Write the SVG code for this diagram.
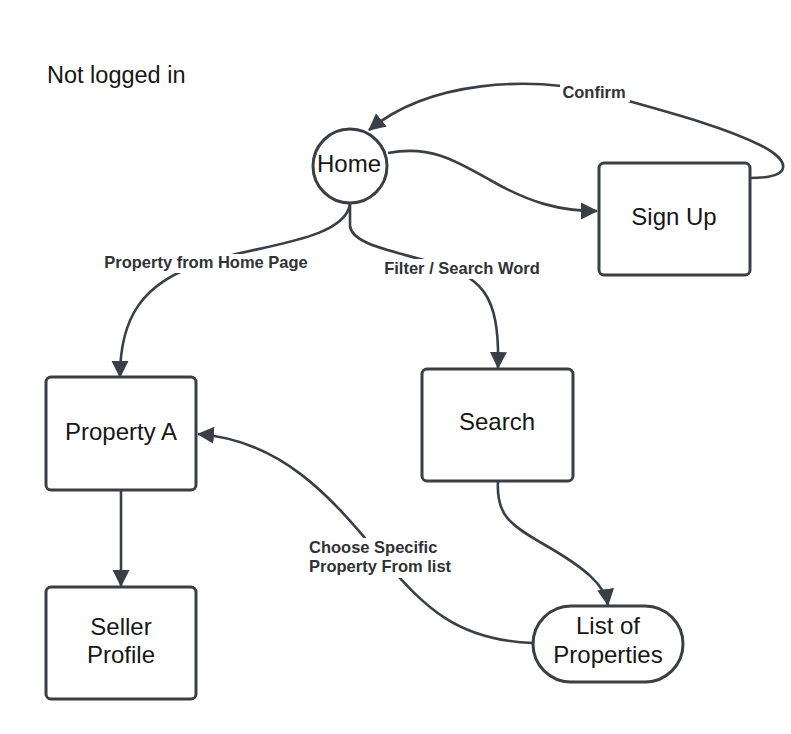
<svg xmlns="http://www.w3.org/2000/svg" width="791" height="734" viewBox="0 0 791 734">
<defs>
<style>
.node{fill:#fff;stroke:#3a3e46;stroke-width:3}
.nt{font-family:"Liberation Sans",Arial,sans-serif;font-size:24px;fill:#161616;text-anchor:middle}
.edge{fill:none;stroke:#3a3e46;stroke-width:2.6}
.lbl{font-family:"Liberation Sans",Arial,sans-serif;font-size:16.5px;font-weight:bold;fill:#2f3237}
.bg{fill:#fff}
</style>
<marker id="arr" markerUnits="userSpaceOnUse" markerWidth="19" markerHeight="19" refX="16" refY="8.5" orient="auto" viewBox="0 0 19 17">
<path d="M0,0 L17,8.5 L0,17 z" fill="#3a3e46"/>
</marker>
</defs>
<rect width="791" height="734" fill="#fff"/>
<text x="47" y="83" font-family="Liberation Sans, Arial, sans-serif" font-size="23.5" fill="#161616">Not logged in</text>

<g id="connectors">
<path class="edge" d="M388,153 C430,145 455,160 490,180 C530,203 560,211 597,211" marker-end="url(#arr)"/>
<path class="edge" d="M750,178 C795,178 790,160 760,145 C720,125 660,110 600,93 C530,76 430,80 369,130" marker-end="url(#arr)"/>
<path class="edge" d="M350,204 C345,240 260,245 206,262 C140,282 120,320 120,377" marker-end="url(#arr)"/>
<path class="edge" d="M350,204 L350,226 C352,244 390,250 430,262 C480,277 500,290 498,368" marker-end="url(#arr)"/>
<path class="edge" d="M121,490 L121,586" marker-end="url(#arr)"/>
<path class="edge" d="M498,482 C496,515 510,525 545,545 C585,568 605,585 608,605" marker-end="url(#arr)"/>
<path class="edge" d="M533,643 C450,640 420,600 380,556 C330,495 280,440 198,434" marker-end="url(#arr)"/>
<rect class="bg" x="560" y="84" width="70" height="18"/>
<text class="lbl" x="594" y="98" text-anchor="middle">Confirm</text>
<rect class="bg" x="100" y="254" width="212" height="19"/>
<text class="lbl" x="206" y="268" text-anchor="middle">Property from Home Page</text>
<rect class="bg" x="380" y="259" width="164" height="20"/>
<text class="lbl" x="462" y="274" text-anchor="middle">Filter / Search Word</text>
<rect class="bg" x="305" y="538" width="154" height="40"/>
<text class="lbl" x="309" y="553">Choose Specific</text>
<text class="lbl" x="309" y="572">Property From list</text>
</g>

<g id="home">
<circle class="node" cx="350" cy="166" r="37"/>
<text class="nt" x="349" y="172">Home</text>
</g>
<g id="signup">
<rect class="node" x="599" y="163" width="151" height="112" rx="5"/>
<text class="nt" x="674" y="225">Sign Up</text>
</g>
<g id="propertyA">
<rect class="node" x="46" y="377" width="150" height="113" rx="5"/>
<text class="nt" x="121" y="440">Property A</text>
</g>
<g id="sellerProfile">
<rect class="node" x="46" y="587" width="150" height="112" rx="5"/>
<text class="nt" x="121" y="635">Seller</text>
<text class="nt" x="121" y="663">Profile</text>
</g>
<g id="search">
<rect class="node" x="422" y="369" width="151" height="112" rx="5"/>
<text class="nt" x="497" y="430">Search</text>
</g>
<g id="listOfProperties">
<rect class="node" x="533" y="606" width="150" height="76" rx="38"/>
<text class="nt" x="608" y="634">List of</text>
<text class="nt" x="608" y="663">Properties</text>
</g>
</svg>
